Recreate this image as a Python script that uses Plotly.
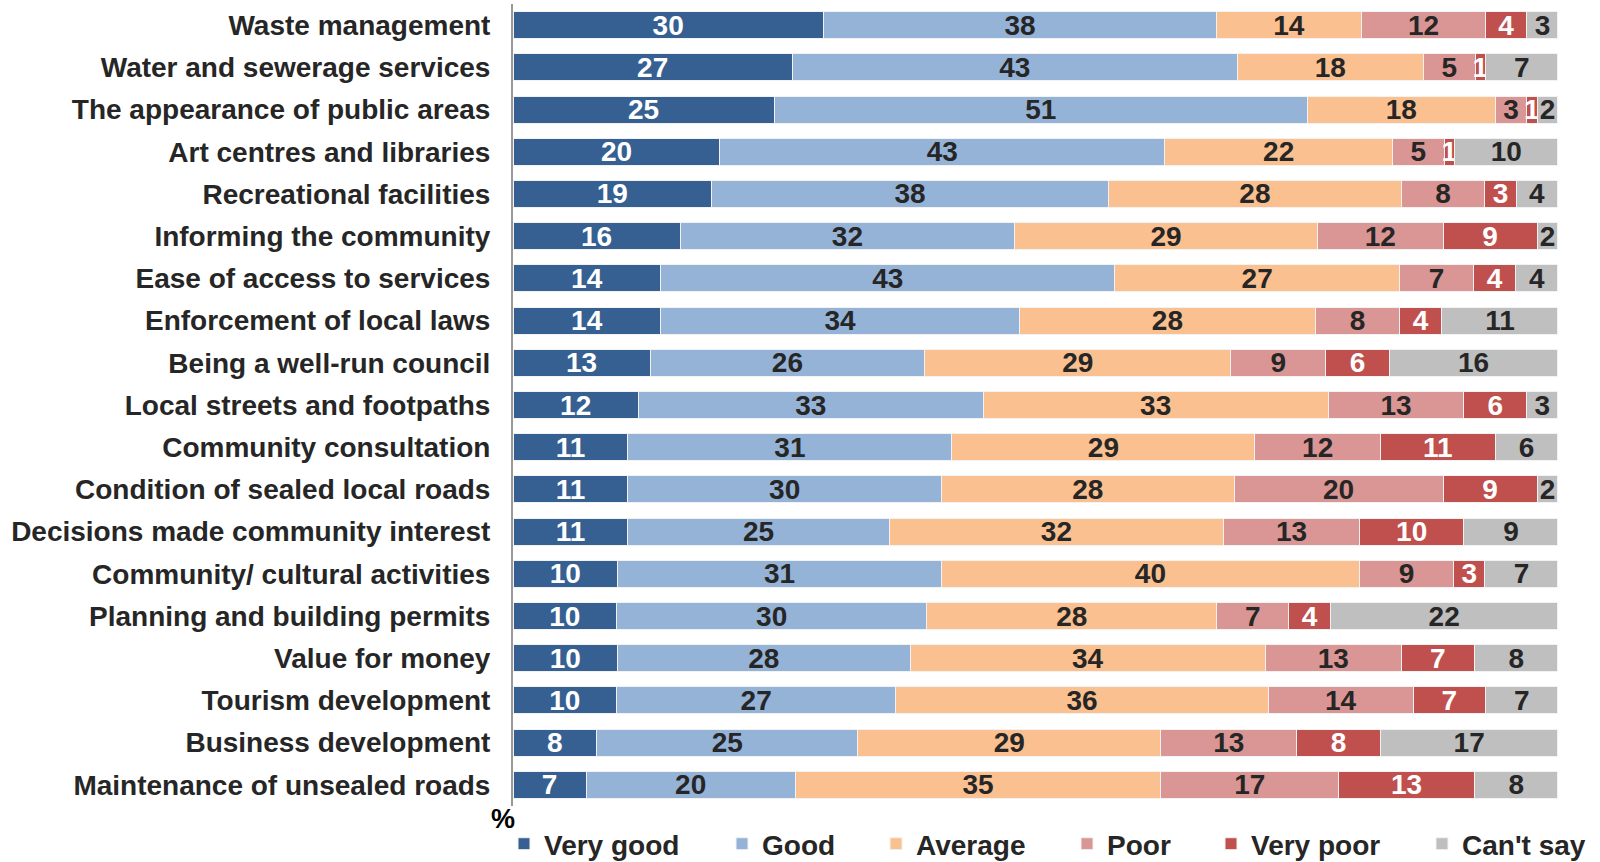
import plotly.graph_objects as go

categories = [
    "Waste management",
    "Water and sewerage services",
    "The appearance of public areas",
    "Art centres and libraries",
    "Recreational facilities",
    "Informing the community",
    "Ease of access to services",
    "Enforcement of local laws",
    "Being a well-run council",
    "Local streets and footpaths",
    "Community consultation",
    "Condition of sealed local roads",
    "Decisions made community interest",
    "Community/ cultural activities",
    "Planning and building permits",
    "Value for money",
    "Tourism development",
    "Business development",
    "Maintenance of unsealed roads",
]

very_good = [30, 27, 25, 20, 19, 16, 14, 14, 13, 12, 11, 11, 11, 10, 10, 10, 10, 8, 7]
good      = [38, 43, 51, 43, 38, 32, 43, 34, 26, 33, 31, 30, 25, 31, 30, 28, 27, 25, 20]
average   = [14, 18, 18, 22, 28, 29, 27, 28, 29, 33, 29, 28, 32, 40, 28, 34, 36, 29, 35]
poor      = [12, 5, 3, 5, 8, 12, 7, 8, 9, 13, 12, 20, 13, 9, 7, 13, 14, 13, 17]
very_poor = [4, 1, 1, 1, 3, 9, 4, 4, 6, 6, 11, 9, 10, 3, 4, 7, 7, 8, 13]
cant_say  = [3, 7, 2, 10, 4, 2, 4, 11, 16, 3, 6, 2, 9, 7, 22, 8, 7, 17, 8]

series_names = ["Very good", "Good", "Average", "Poor", "Very poor", "Can't say"]
series_values = [very_good, good, average, poor, very_poor, cant_say]
colors = ["#376092", "#95B3D7", "#FAC090", "#DA9694", "#C0504D", "#BFBFBF"]
label_colors = ["white", "#262626", "#262626", "#262626", "white", "#262626"]

FONT = "Liberation Sans, Arial, sans-serif"
DARK = "#262626"
FS = 28

# plot area in pixels
W, H = 1600, 862
L, R, T, B = 513, 42, 4, 56
plot_w = W - L - R

# left edge (px) of each legend entry's text
legend_text_x = [544, 762, 916, 1107, 1251, 1462]
legend_top_px = 819

fig = go.Figure()
for i, (name, vals, col, lcol) in enumerate(zip(series_names, series_values, colors, label_colors)):
    legend_id = "legend" if i == 0 else f"legend{i + 1}"
    fig.add_trace(go.Bar(
        y=categories,
        x=vals,
        name=name,
        orientation="h",
        marker=dict(color=col, line=dict(color="#F2F2F2", width=1)),
        text=vals,
        texttemplate="%{text}",
        textposition="inside",
        insidetextanchor="middle",
        constraintext="none",
        textangle=0,
        textfont=dict(family=FONT, size=FS, color=lcol, weight="bold"),
        cliponaxis=False,
        hoverinfo="skip",
        legend=legend_id,
    ))

layout_legends = {}
for i, tx in enumerate(legend_text_x):
    key = "legend" if i == 0 else f"legend{i + 1}"
    layout_legends[key] = dict(
        x=(tx - 40) / W,
        xref="container",
        xanchor="left",
        y=1 - legend_top_px / H,
        yref="container",
        yanchor="top",
        orientation="h",
        font=dict(family=FONT, size=FS, color=DARK, weight="bold"),
        bgcolor="rgba(0,0,0,0)",
        borderwidth=0,
        tracegroupgap=0,
    )

fig.update_layout(
    width=W,
    height=H,
    barmode="stack",
    barnorm="percent",
    bargap=0.36,
    plot_bgcolor="white",
    paper_bgcolor="white",
    margin=dict(l=L, r=R, t=T, b=B, pad=0, autoexpand=False),
    showlegend=True,
    xaxis=dict(
        range=[0, 100.001],
        showgrid=False,
        zeroline=False,
        showticklabels=False,
        showline=False,
        fixedrange=True,
    ),
    yaxis=dict(
        autorange="reversed",
        showgrid=False,
        zeroline=False,
        showline=True,
        linecolor="#999999",
        linewidth=2,
        ticks="",
        ticklabelstandoff=15,
        tickfont=dict(family=FONT, size=FS, color=DARK, weight="bold"),
        fixedrange=True,
    ),
    annotations=[dict(
        text="%",
        xref="paper",
        yref="paper",
        x=-0.0096,
        y=-0.016,
        xanchor="center",
        yanchor="middle",
        showarrow=False,
        font=dict(family=FONT, size=27, color="black", weight="bold"),
    )],
    **layout_legends,
)

fig.write_html("out.html")
